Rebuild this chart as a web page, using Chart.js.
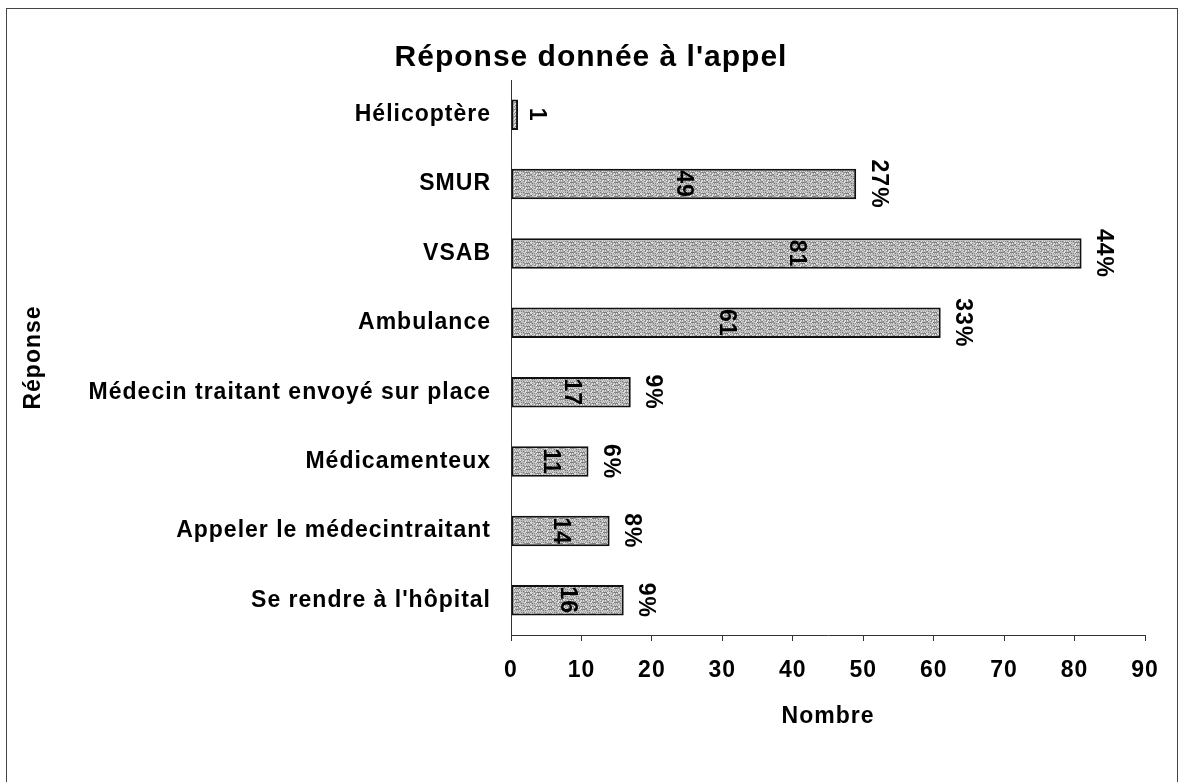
<!DOCTYPE html>
<html>
<head>
<meta charset="utf-8">
<script src="https://cdn.jsdelivr.net/npm/chart.js@4.4.0/dist/chart.umd.min.js"></script>
<style>
  html, body { margin: 0; padding: 0; background: #fff; }
  #wrap { width: 1182px; height: 782px; }
</style>
</head>
<body>
<div id="wrap"><canvas id="myChart" width="1182" height="782"></canvas></div>
<script>
  const categories = ['Hélicoptère', 'SMUR', 'VSAB', 'Ambulance', 'Médecin traitant envoyé sur place',
    'Médicamenteux', 'Appeler le médecintraitant', "Se rendre à l'hôpital"];
  const counts = [1, 49, 81, 61, 17, 11, 14, 16];
  const percentLabels = ['', '27%', '44%', '33%', '9%', '6%', '8%', '9%'];
  const xTicks = [0, 10, 20, 30, 40, 50, 60, 70, 80, 90];

  const FONT = "'Liberation Sans', Arial, sans-serif";

  // grey stipple fill like the scanned original (fixed hash, no randomness)
  function makePattern() {
    const c = document.createElement('canvas');
    c.width = 11; c.height = 7;
    const g = c.getContext('2d');
    for (let y = 0; y < 7; y++) {
      for (let x = 0; x < 11; x++) {
        const h = (x * 37 + y * 61 + x * y * 13) % 9;
        const v = 118 + h * 14;
        g.fillStyle = 'rgb(' + v + ',' + v + ',' + v + ')';
        g.fillRect(x, y, 1, 1);
      }
    }
    return g.createPattern(c, 'repeat');
  }

  const barLabels = {
    id: 'barLabels',
    beforeDraw(chart) {
      chart.ctx.letterSpacing = '1px';
    },
    afterDatasetsDraw(chart) {
      const ctx = chart.ctx;
      const meta = chart.getDatasetMeta(0);
      ctx.save();
      ctx.fillStyle = '#000';
      ctx.font = 'bold 23px ' + FONT;
      ctx.textAlign = 'center';
      ctx.textBaseline = 'middle';
      meta.data.forEach(function(bar, i) {
        const left = bar.base;
        const right = bar.x;
        let vx = (left + right) / 2;
        if (right - left < 30) vx = right + 18;
        ctx.save();
        ctx.translate(vx, bar.y);
        ctx.rotate(Math.PI / 2);
        ctx.fillText(String(counts[i]), 0, 0);
        ctx.restore();
        if (percentLabels[i]) {
          ctx.save();
          ctx.translate(right + 22, bar.y);
          ctx.rotate(Math.PI / 2);
          ctx.fillText(percentLabels[i], 0, 0);
          ctx.restore();
        }
      });
      ctx.restore();
    },
    afterDraw(chart) {
      const ctx = chart.ctx;
      ctx.save();
      ctx.strokeStyle = '#444';
      ctx.lineWidth = 1;
      ctx.strokeRect(6.5, 8.5, 1171, 800);
      ctx.restore();
    }
  };

  new Chart('myChart', {
    type: 'bar',
    data: {
      labels: categories,
      datasets: [{
        label: 'Nombre',
        data: counts,
        backgroundColor: makePattern(),
        borderColor: '#111',
        borderWidth: 2,
        borderSkipped: false,
        categoryPercentage: 1,
        barPercentage: 0.44
      }]
    },
    options: {
      indexAxis: 'y',
      responsive: false,
      animation: false,
      layout: { padding: { left: 0, right: 0, top: 0, bottom: 0 } },
      plugins: {
        legend: { display: false },
        tooltip: { enabled: false },
        title: {
          display: true,
          text: "Réponse donnée à l'appel",
          color: '#000',
          font: { family: FONT, size: 30, weight: 'bold' },
          padding: { top: 40, bottom: 4 }
        }
      },
      scales: {
        x: {
          min: 0,
          max: 90,
          afterBuildTicks: function(scale) {
            scale.ticks = xTicks.map(v => ({ value: v }));
          },
          afterFit: function(scale) {
            scale.height = 147;
            scale.paddingRight = 37;
          },
          grid: { drawOnChartArea: false, drawTicks: true, tickLength: 6, color: '#333' },
          border: { display: true, color: '#333', width: 1 },
          ticks: { color: '#000', padding: 16, font: { family: FONT, size: 23, weight: 'bold' } },
          title: {
            display: true,
            text: 'Nombre',
            color: '#000',
            font: { family: FONT, size: 23, weight: 'bold' },
            padding: { top: 0, bottom: 52 }
          }
        },
        y: {
          afterFit: function(scale) { scale.width = 511; },
          grid: { display: false, drawTicks: false },
          border: { display: true, color: '#333', width: 1 },
          ticks: { color: '#000', padding: 20, font: { family: FONT, size: 23, weight: 'bold' } },
          title: {
            display: true,
            text: 'Réponse',
            color: '#000',
            font: { family: FONT, size: 23, weight: 'bold' },
            padding: { top: 20, bottom: 0 }
          }
        }
      }
    },
    plugins: [barLabels]
  });
</script>
</body>
</html>
